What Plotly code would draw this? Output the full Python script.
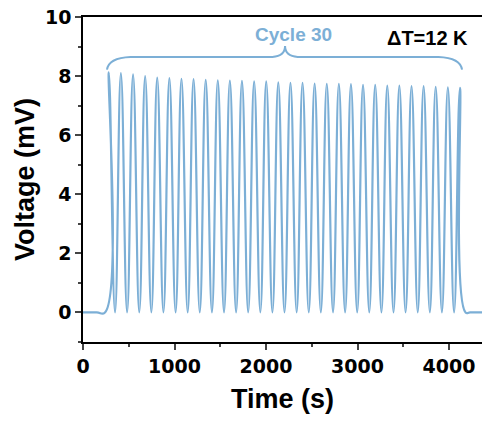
import plotly.graph_objects as go

# ---- data ----
lead_times = [0, 150, 240]
lead_volts = [0.0, 0.0, 0.0]

peak_times = [282, 414, 547, 679, 811, 944, 1076, 1208, 1341, 1473,
              1605, 1737, 1870, 2002, 2134, 2267, 2399, 2531, 2664, 2796,
              2928, 3060, 3193, 3325, 3457, 3590, 3722, 3854, 3987, 4119]
peak_volts = [8.13, 8.10, 8.06, 8.00, 7.95, 7.93, 7.91, 7.90, 7.87, 7.86,
              7.85, 7.84, 7.82, 7.82, 7.79, 7.77, 7.77, 7.75, 7.74, 7.74,
              7.73, 7.70, 7.70, 7.68, 7.68, 7.66, 7.66, 7.64, 7.62, 7.60]
trough_times = [350, 482, 615, 747, 879, 1012, 1144, 1276, 1409, 1541,
                1673, 1805, 1938, 2070, 2202, 2335, 2467, 2599, 2732, 2864,
                2996, 3128, 3261, 3393, 3525, 3658, 3790, 3922, 4055, 4180]
trough_volts = [0.0] * 30

tail_times = [4230, 4360]
tail_volts = [0.0, 0.0]

x_tick_vals = [0, 1000, 2000, 3000, 4000]
y_tick_vals = [0, 2, 4, 6, 8, 10]

# assemble series in time order
t = list(lead_times)
v = list(lead_volts)
for pt, pv, tt, tv in zip(peak_times, peak_volts, trough_times, trough_volts):
    t += [pt, tt]
    v += [pv, tv]
t += tail_times
v += tail_volts

LINE = "#7cafd6"
FONT = "Liberation Sans, Arial, sans-serif"
TICKFONT = "DejaVu Sans, Liberation Sans, sans-serif"

fig = go.Figure()
fig.add_trace(go.Scatter(x=t, y=v, mode="lines",
                         line=dict(color=LINE, width=2.2, shape="spline", smoothing=1.3),
                         hoverinfo="skip", showlegend=False))

# brace over the cycles
brace = ("M 262,8.22 Q 280,8.62 520,8.65 L 2070,8.65 Q 2208,8.68 2208,9.02 "
         "Q 2208,8.68 2346,8.65 L 3884,8.65 Q 4124,8.62 4142,8.22")
fig.add_shape(type="path", path=brace, xref="x", yref="y",
              line=dict(color=LINE, width=2))

fig.add_annotation(x=2300, y=9.4, xref="x", yref="y", text="Cycle 30",
                   showarrow=False, font=dict(family=FONT, size=19, color=LINE, weight="bold"))
fig.add_annotation(x=3760, y=9.3, xref="x", yref="y", text="ΔT=12 K",
                   showarrow=False, font=dict(family=FONT, size=20, color="black", weight="bold"))

fig.update_layout(
    width=482, height=423,
    margin=dict(l=83, r=0, t=17, b=81),
    paper_bgcolor="white", plot_bgcolor="white",
    font=dict(family=FONT, color="black"),
    xaxis=dict(range=[0, 4360], tickvals=x_tick_vals, ticks="outside", ticklen=6,
               tickwidth=1.5, showline=True, linewidth=1.5, linecolor="black",
               mirror=True, showgrid=False, zeroline=False,
               minor=dict(dtick=500, tick0=0, ticks="outside", ticklen=3, tickwidth=1.5),
               tickfont=dict(family=TICKFONT, size=19, weight="bold"),
               title=dict(text="Time (s)", font=dict(family=FONT, size=27, weight="bold"),
                          standoff=14)),
    yaxis=dict(range=[-1, 10], tickvals=y_tick_vals, ticks="outside", ticklen=6,
               tickwidth=1.5, showline=True, linewidth=1.5, linecolor="black",
               showgrid=False, zeroline=False,
               minor=dict(dtick=1, tick0=0, ticks="outside", ticklen=3, tickwidth=1.5),
               tickfont=dict(family=TICKFONT, size=19, weight="bold"),
               title=dict(text="Voltage (mV)", font=dict(family=FONT, size=27, weight="bold"),
                          standoff=3)),
)

fig.write_html("out.html")
